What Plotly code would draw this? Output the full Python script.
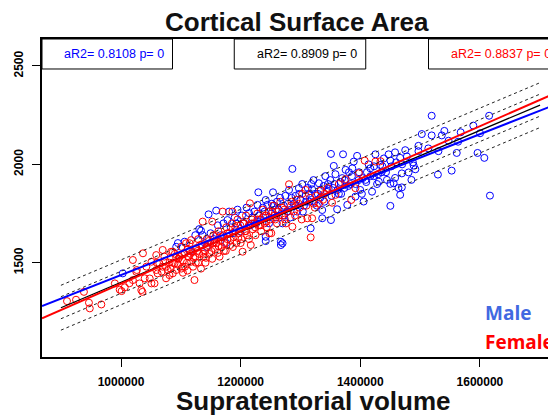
import numpy as np
import plotly.graph_objects as go

# --- data (supratentorial volume vs cortical surface area) ---
female_vol = [909700, 924800, 938000, 946400, 947800, 967100, 989700, 997800, 1001000, 1006200,
              1014200, 1019800, 1019800, 1025500, 1026400, 1031100, 1033900, 1035800, 1036700, 1039600,
              1042400, 1048000, 1050900, 1050900, 1056000, 1058900, 1058900, 1061200, 1064000, 1069700,
              1069700, 1072500, 1075300, 1075300, 1078100, 1081000, 1081000, 1083800, 1086600, 1086600,
              1086600, 1089400, 1092300, 1092300, 1095100, 1097900, 1100700, 1100700, 1103500, 1103500,
              1103500, 1106400, 1108700, 1110100, 1111100, 1113000, 1114800, 1117200, 1117200, 1119500,
              1120500, 1122800, 1124200, 1126100, 1129000, 1129000, 1130800, 1133700, 1134600, 1136500,
              1138400, 1140200, 1141200, 1143100, 1144900, 1147800, 1149700, 1152500, 1152500, 1154400,
              1157200, 1159100, 1161900, 1162800, 1164700, 1166600, 1168500, 1169900, 1171300, 1173200,
              1175100, 1176000, 1177900, 1180700, 1182600, 1185400, 1186300, 1188200, 1190100, 1192900,
              1194800, 1196700, 1199500, 1201400, 1203300, 1204200, 1207000, 1208900, 1210800, 1213600,
              1215500, 1216900, 1218300, 1220200, 1223000, 1224900, 1227700, 1230600, 1232400, 1234300,
              1237100, 1240000, 1241900, 1243700, 1246600, 1249400, 1251300, 1254100, 1256900, 1260700,
              1262600, 1266300, 1270100, 1272900, 1275700, 1280900, 1284200, 1286500, 1288900, 1293600,
              1298300, 1303000, 1308700, 1311500, 1317100, 1319500, 1321800, 1326500, 1333600, 1337800,
              1345300, 1352900, 1358500, 1364200, 1375500, 1384900, 1391900, 1397600, 1407400, 1425300,
              1433800,
              1060000, 1068000, 1074000, 1083000, 1090000, 1096000, 1102000, 1107000, 1112000, 1116000,
              1121000, 1125000, 1128000, 1132000, 1137000, 1142000, 1146000, 1151000, 1155000, 1159000,
              1163000, 1168000, 1172000, 1178000, 1183000, 1187000, 1191000, 1196000, 1200000, 1205000,
              1209000, 1214000, 1219000, 1224000, 1228000, 1233000, 1238000, 1243000, 1248000, 1253000,
              1258000, 1264000, 1269000, 1274000, 1279000, 1285000, 1291000, 1297000, 1302000, 1310000,
              1316000, 1324000, 1331000, 1340000]
female_area = [1305, 1312, 1352, 1297, 1268, 1288, 1395, 1363, 1356, 1375,
               1396, 1514, 1412, 1454, 1463, 1395, 1361, 1352, 1548, 1421,
               1480, 1420, 1505, 1395, 1395, 1539, 1463, 1446, 1497, 1480,
               1565, 1531, 1421, 1480, 1463, 1437, 1500, 1556, 1556, 1446,
               1500, 1497, 1463, 1525, 1490, 1530, 1581, 1470, 1449, 1480,
               1510, 1545, 1599, 1500, 1460, 1530, 1599, 1505, 1615, 1555,
               1480, 1412, 1530, 1575, 1500, 1620, 1545, 1470, 1590, 1709,
               1530, 1560, 1500, 1620, 1580, 1545, 1600, 1709, 1520, 1640,
               1570, 1600, 1550, 1660, 1531, 1610, 1580, 1760, 1640, 1600,
               1560, 1680, 1620, 1650, 1590, 1700, 1760, 1630, 1660, 1600,
               1720, 1650, 1690, 1620, 1556, 1700, 1660, 1740, 1640, 1690,
               1802, 1590, 1720, 1670, 1700, 1640, 1750, 1690, 1720, 1660,
               1770, 1700, 1740, 1680, 1760, 1720, 1650, 1790, 1740, 1700,
               1760, 1810, 1740, 1770, 1700, 1899, 1790, 1683, 1760, 1820,
               1780, 1850, 1870, 1726, 1629, 1726, 1800, 1840, 1866, 1820,
               1880, 1805, 1845, 1900, 1925, 1819, 1879, 1955, 2019, 2014,
               2016,
               1500, 1455, 1510, 1470, 1545, 1520, 1540, 1480, 1570, 1545,
               1525, 1500, 1560, 1590, 1545, 1525, 1610, 1560, 1600, 1640,
               1585, 1630, 1560, 1650, 1615, 1580, 1680, 1625, 1600, 1700,
               1660, 1620, 1700, 1680, 1720, 1690, 1730, 1710, 1650, 1760,
               1720, 1740, 1780, 1720, 1760, 1810, 1740, 1800, 1720, 1790,
               1830, 1780, 1800, 1850]

male_vol = [1002900, 1092300, 1095100, 1106400, 1114800, 1124200, 1130800, 1133700, 1136500, 1140200,
            1143100, 1146400, 1149700, 1155300, 1159100, 1161900, 1166600, 1171300, 1176000, 1177900,
            1180700, 1183500, 1187300, 1190100, 1192900, 1194800, 1199500, 1202300, 1206100, 1209900,
            1214100, 1216400, 1219300, 1223000, 1225900, 1228200, 1229600, 1230600, 1234300, 1237100,
            1240000, 1241900, 1241900, 1241900, 1244700, 1247500, 1251300, 1254100, 1256000, 1258800,
            1260700, 1263500, 1267300, 1267300, 1270100, 1270100, 1272000, 1274800, 1277600, 1280900,
            1283200, 1286500, 1288900, 1291700, 1294500, 1297400, 1300200, 1303000, 1305800, 1308700,
            1312400, 1315200, 1317100, 1319500, 1321800, 1324600, 1327500, 1330800, 1333100, 1336400,
            1336400, 1338800, 1341600, 1344400, 1347200, 1350000, 1351000, 1351000, 1354700, 1355700,
            1358500, 1361300, 1364200, 1367000, 1369800, 1371200, 1373600, 1375500, 1378300, 1381100,
            1383900, 1386700, 1389100, 1391900, 1394700, 1397100, 1399900, 1402700, 1405600, 1408800,
            1411200, 1414000, 1416800, 1419700, 1422500, 1425300, 1428100, 1431000, 1433300, 1435700,
            1439400, 1444600, 1447400, 1450300, 1450300, 1450300, 1455900, 1458200, 1458200, 1463900,
            1466700, 1466700, 1469500, 1469500, 1475200, 1480800, 1485500, 1489300, 1492100, 1497300,
            1497300, 1502900, 1513800, 1519400, 1519400, 1529800, 1530700, 1536300, 1540600, 1547600,
            1552800, 1561300, 1563600, 1567900, 1589000, 1596100, 1600300, 1607400, 1615400, 1616800,
            1252000, 1259000, 1266000, 1273000, 1279000, 1285000, 1292000, 1298000, 1304000, 1309000,
            1314000, 1318000, 1323000, 1329000, 1334000, 1340000, 1346000, 1352000, 1357000, 1362000,
            1368000, 1374000, 1380000, 1386000, 1392000, 1398000, 1404000, 1410000, 1417000, 1423000,
            1430000, 1437000, 1443000, 1452000, 1460000, 1470000, 1478000, 1488000]
male_area = [1446, 1581, 1600, 1607, 1560, 1640, 1671, 1663, 1640, 1600,
             1580, 1746, 1650, 1620, 1765, 1690, 1640, 1700, 1600, 1717,
             1760, 1680, 1650, 1730, 1700, 1770, 1660, 1740, 1700, 1780,
             1752, 1690, 1730, 1760, 1700, 1794, 1858, 1740, 1720, 1780,
             1760, 1819, 1632, 1610, 1794, 1700, 1750, 1858, 1790, 1730,
             1810, 1770, 1607, 1590, 1599, 1700, 1790, 1840, 1760, 1870,
             1730, 1977, 1800, 1840, 1760, 1879, 1820, 1900, 1790, 1840,
             1880, 1810, 1675, 1873, 1920, 1850, 1790, 1904, 1830, 1768,
             1726, 1890, 1940, 1860, 1875, 1920, 2053, 1717, 1880, 1992,
             1950, 1772, 1850, 1910, 1930, 2051, 1880, 1972, 1794, 1960,
             1900, 1980, 2014, 1836, 2043, 1920, 1870, 1850, 1811, 1921,
             1960, 2000, 1980, 1861, 1940, 2051, 1900, 1912, 1997, 1960,
             2030, 1921, 2051, 1789, 1901, 2019, 1904, 2061, 1931, 1880,
             2033, 1845, 1954, 1883, 2072, 1959, 1921, 1994, 1975, 2094,
             2067, 2154, 2081, 2247, 2147, 1948, 2067, 2147, 2170, 2120,
             1968, 2058, 2115, 2163, 2197, 2058, 2158, 2033, 2247, 1841,
             1800, 1770, 1830, 1740, 1800, 1830, 1790, 1850, 1760, 1810,
             1850, 1900, 1810, 1850, 1870, 1810, 1900, 1840, 1900, 1870,
             1850, 1920, 1890, 1940, 1900, 1960, 1930, 1910, 1940, 1990,
             1950, 1990, 1960, 1990, 2010, 2000, 2040, 2010]

# regression fits (intercept, slope) and prediction band half-widths
fit_male = [244.8, 0.0011928]
fit_female = [60.2, 0.0013335]
fit_all = [115.1, 0.0012854]
pred_range = [899540, 1700550]
band_inner = 56
band_outer = 114

x_range = [867900, 1723900]
y_range = [1021, 2637]

labels = ['aR2= 0.8108 p= 0', 'aR2= 0.8909 p= 0', 'aR2= 0.8837 p= 0']
label_colors = ['#0000ff', '#000000', '#ff0000']

font = 'Liberation Sans, Arial, sans-serif'

fig = go.Figure()
fig.add_trace(go.Scatter(x=male_vol, y=male_area, mode='markers',
                         marker=dict(symbol='circle-open', size=7, color='#0000ff',
                                     line=dict(width=1, color='#0000ff'))))
fig.add_trace(go.Scatter(x=female_vol, y=female_area, mode='markers',
                         marker=dict(symbol='circle-open', size=7, color='#ff0000',
                                     line=dict(width=1, color='#ff0000'))))

px_line = np.array(pred_range)
yfit = fit_all[0] + fit_all[1] * px_line
for off in [band_outer, band_inner, -band_inner, -band_outer]:
    fig.add_trace(go.Scatter(x=px_line, y=yfit + off, mode='lines',
                             line=dict(color='#222222', width=1, dash='3px,3px')))
fig.add_trace(go.Scatter(x=px_line, y=yfit, mode='lines', line=dict(color='black', width=1.3)))

xx = np.array(x_range)
fig.add_trace(go.Scatter(x=xx, y=fit_male[0] + fit_male[1] * xx, mode='lines',
                         line=dict(color='#0000ff', width=2)))
fig.add_trace(go.Scatter(x=xx, y=fit_female[0] + fit_female[1] * xx, mode='lines',
                         line=dict(color='#ff0000', width=2)))

# legend boxes along the top
boxes = [(0.0, 0.2549), (0.3755, 0.6323), (0.7549, 1.05)]
text_right = [0.2426, 0.6187, 0.998]
for (x0, x1), tx, lab, col in zip(boxes, text_right, labels, label_colors):
    fig.add_shape(type='rect', xref='paper', yref='paper', x0=x0, x1=x1, y0=0.9057, y1=1.0,
                  fillcolor='white', line=dict(color='black', width=1))
    fig.add_annotation(xref='paper', yref='paper', x=tx, y=0.953, text=lab, showarrow=False,
                       xanchor='right', yanchor='middle', font=dict(family=font, size=12.5, color=col))

fig.add_annotation(xref='paper', yref='paper', x=0.498, y=1.052, text='<b>Cortical Surface Area</b>',
                   showarrow=False, xanchor='center', yanchor='middle',
                   font=dict(family=font, size=26, color='#111111'))
fig.add_annotation(xref='paper', yref='paper', x=0.531, y=-0.139, text='<b>Supratentorial volume</b>',
                   showarrow=False, xanchor='center', yanchor='middle',
                   font=dict(family=font, size=26, color='#111111'))
fig.add_annotation(xref='paper', yref='paper', x=0.862, y=0.138, text='<b>Male</b>',
                   showarrow=False, xanchor='left', yanchor='middle',
                   font=dict(family='Open Sans, sans-serif', size=19, color='#4169e1'))
fig.add_annotation(xref='paper', yref='paper', x=0.862, y=0.047, text='<b>Female</b>',
                   showarrow=False, xanchor='left', yanchor='middle',
                   font=dict(family='Open Sans, sans-serif', size=19, color='#ff0000'))

fig.update_xaxes(range=x_range, showgrid=False, zeroline=False, showline=True, mirror=True,
                 linecolor='black', linewidth=2, ticks='outside', ticklen=8, tickwidth=1,
                 tickcolor='black', tickvals=[1000000, 1200000, 1400000, 1600000],
                 ticktext=['1000000', '1200000', '1400000', '1600000'],
                 tickfont=dict(family=font, size=12, color='black', weight='bold'), ticklabelstandoff=5)
fig.update_yaxes(range=y_range, showgrid=False, zeroline=False, showline=True, mirror=True,
                 linecolor='black', linewidth=2, ticks='outside', ticklen=8, tickwidth=1,
                 tickcolor='black', tickvals=[1500, 2000, 2500], tickangle=-90,
                 tickfont=dict(family=font, size=12, color='black', weight='bold'), ticklabelstandoff=4)
# the page body adds an 8px margin, so the figure is sized/placed to compensate
fig.update_layout(width=548, height=409, margin=dict(l=34, r=0, t=31, b=60),
                  plot_bgcolor='white', paper_bgcolor='white', showlegend=False)
fig.write_html("out.html")
